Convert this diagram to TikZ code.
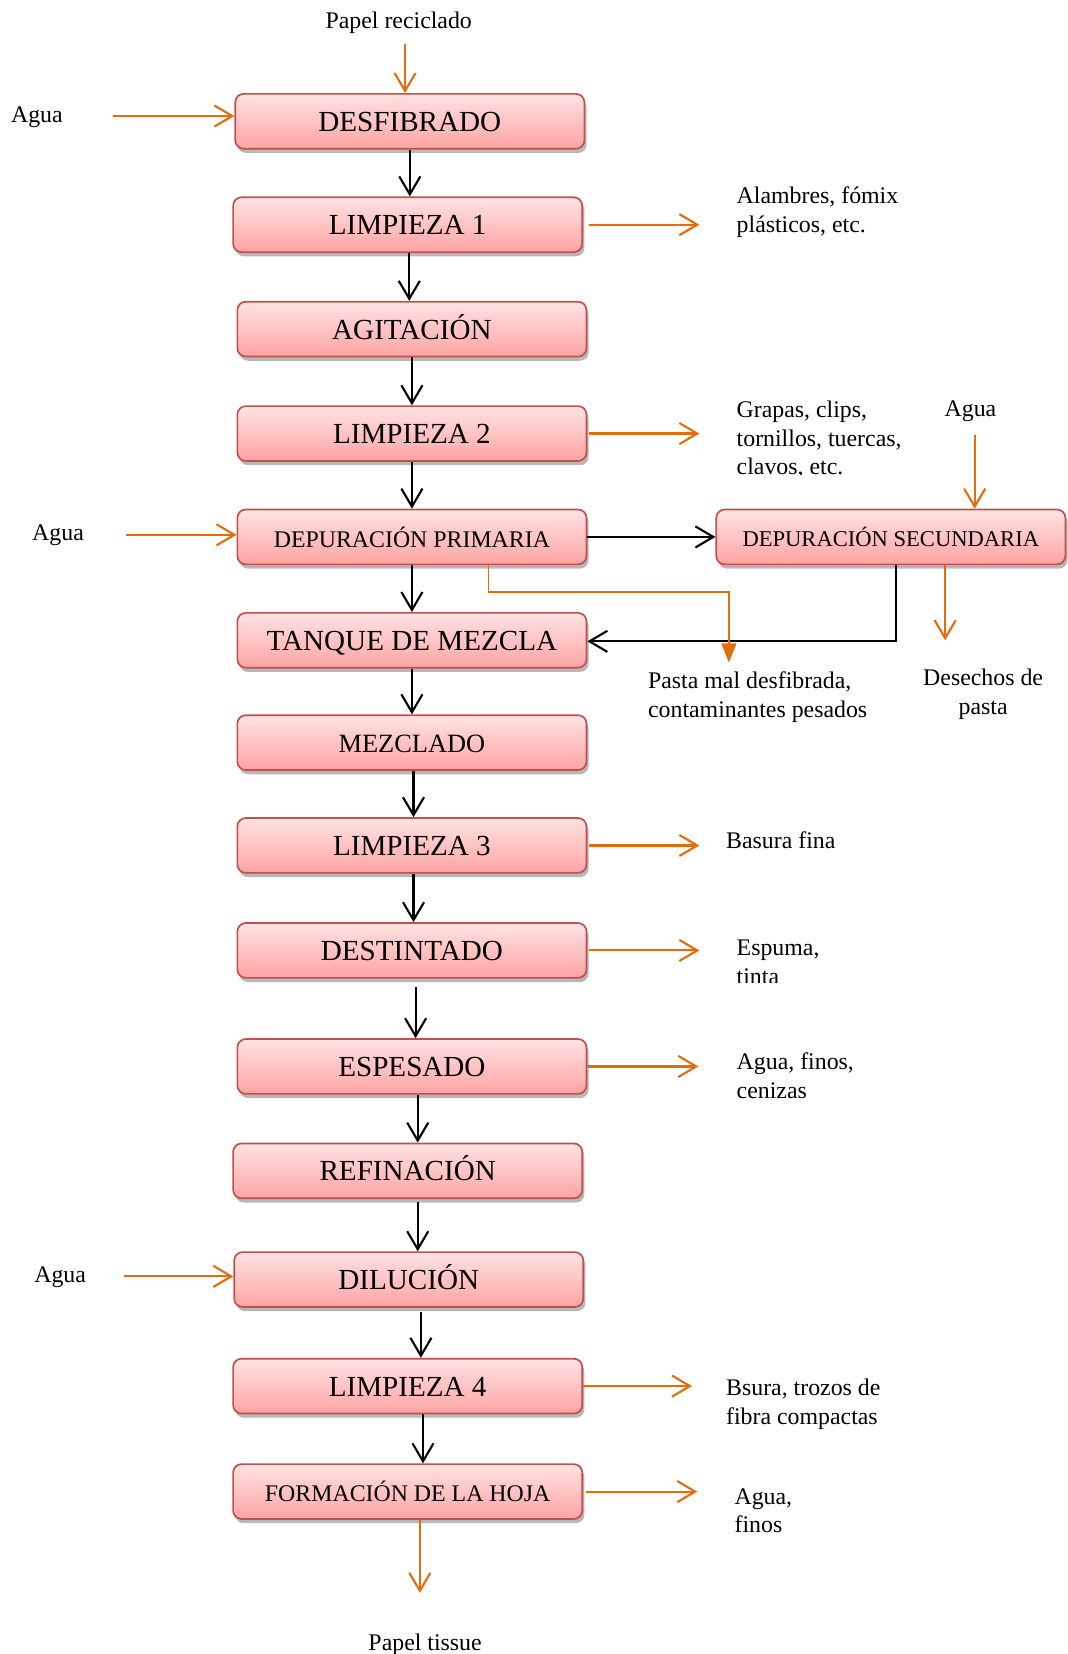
\documentclass[tikz,border=0pt]{standalone}
\usepackage{fontspec}
\setmainfont{Liberation Serif}
\usetikzlibrary{arrows.meta,shadows}

\definecolor{boxedge}{HTML}{C0504D}
\definecolor{boxtop}{HTML}{FFE3E3}
\definecolor{boxbot}{HTML}{FFA3A3}
\definecolor{flow}{HTML}{E46C0A}

\tikzset{
  x=0.5pt, y=0.5pt,
  proc/.style={draw=boxedge, line width=0.8pt, rounded corners=4pt,
    top color=boxtop, bottom color=boxbot,
    minimum width=165.5pt, minimum height=26pt, inner sep=0pt,
    drop shadow={shadow xshift=1pt, shadow yshift=-2pt, opacity=0.28, fill=black}},
  big/.style={font=\fontsize{13.8}{16}\selectfont, text height=0.95em, text depth=0pt},
  med/.style={font=\fontsize{12.5}{15}\selectfont, text height=0.9em, text depth=0pt},
  sml/.style={font=\fontsize{11.3}{13.5}\selectfont},
  tiny/.style={font=\fontsize{10.7}{13}\selectfont},
  note/.style={font=\fontsize{11.3}{13.5}\selectfont, align=left, inner sep=0pt, anchor=base west},
  notec/.style={font=\fontsize{11.3}{13.5}\selectfont, align=center, inner sep=0pt},
  blk/.style={line width=1pt, -{Straight Barb[length=8.5pt,width=10pt,line width=1pt]}},
  org/.style={draw=flow, line width=1pt, -{Straight Barb[length=8.5pt,width=10pt,line width=1pt]}},
  orgfill/.style={draw=flow, line width=0.75pt, -{Triangle[length=9pt,width=7pt,fill=flow]}},
}

\begin{document}
\begin{tikzpicture}
\useasboundingbox (0,0) rectangle (1012,-1568);

% process boxes of the main line
\node[proc,big] (desf)  at (388.5,-115)  {DESFIBRADO};
\node[proc,big] (limp1) at (386.5,-213)  {LIMPIEZA 1};
\node[proc,big] (agit)  at (390.5,-312)  {AGITACIÓN};
\node[proc,big] (limp2) at (390.5,-411)  {LIMPIEZA 2};
\node[proc,sml] (dep1)  at (390.5,-509)  {DEPURACIÓN PRIMARIA};
\node[proc,big] (tanq)  at (390.5,-607)  {TANQUE DE MEZCLA};
\node[proc,med] (mezc)  at (390.5,-704)  {MEZCLADO};
\node[proc,big] (limp3) at (390.5,-801.5){LIMPIEZA 3};
\node[proc,big] (dest)  at (390.5,-901)  {DESTINTADO};
\node[proc,big] (espe)  at (390.5,-1011) {ESPESADO};
\node[proc,big] (refi)  at (386.5,-1110) {REFINACIÓN};
\node[proc,big] (dilu)  at (387.5,-1213) {DILUCIÓN};
\node[proc,big] (limp4) at (386.5,-1314) {LIMPIEZA 4};
\node[proc,sml] (form)  at (386.5,-1414) {FORMACIÓN DE LA HOJA};
\node[proc,tiny] (dep2) at (844.5,-509)  {DEPURACIÓN SECUNDARIA};

% main downward flow
\draw[blk] (desf.south) -- (desf.south |- limp1.north);
\draw[blk] ([xshift=0.75pt]limp1.south) -- ([xshift=0.75pt]limp1.south |- agit.north);
\draw[blk] (agit.south) -- (agit.south |- limp2.north);
\draw[blk] (limp2.south) -- (limp2.south |- dep1.north);
\draw[blk] (dep1.south) -- (dep1.south |- tanq.north);
\draw[blk] (tanq.south) -- (tanq.south |- mezc.north);
\draw[blk] ([xshift=0.75pt]mezc.south) -- ([xshift=0.75pt]mezc.south |- limp3.north);
\draw[blk] ([xshift=0.75pt]limp3.south) -- ([xshift=0.75pt]limp3.south |- dest.north);
\draw[blk, shorten <=4pt] ([xshift=1.75pt]dest.south) -- ([xshift=1.75pt]dest.south |- espe.north);
\draw[blk] ([xshift=2.75pt]espe.south) -- ([xshift=2.75pt]espe.south |- refi.north);
\draw[blk, shorten <=1.5pt] ([xshift=4.75pt]refi.south) -- ([xshift=4.75pt]refi.south |- dilu.north);
\draw[blk, shorten <=2pt] ([xshift=5.75pt]dilu.south) -- ([xshift=5.75pt]dilu.south |- limp4.north);
\draw[blk] ([xshift=7.25pt]limp4.south) -- ([xshift=7.25pt]limp4.south |- form.north);

% secondary cleaning loop
\draw[blk] (dep1.east) -- (dep2.west);
\coordinate (ret) at (849,-608);
\draw[blk] (dep2.south -| ret) -- (ret) -- (ret -| tanq.east);

% inputs
\node[notec] (prin) at (378,-22) {Papel reciclado};
\coordinate (pin) at (384,-42);
\draw[org] (pin) -- (pin |- desf.north);

\node[notec] (ag1) at (35,-111) {Agua};
\coordinate (a1) at (107,-110);
\draw[org] (a1) -- (a1 -| desf.west);

\node[notec] (ag2) at (55,-507) {Agua};
\coordinate (a2) at (119,-507);
\draw[org] (a2) -- (a2 -| dep1.west);

\node[notec] (ag3) at (57,-1211) {Agua};
\coordinate (a3) at (118,-1210);
\draw[org] (a3) -- (a3 -| dilu.west);

\node[notec] (ag4) at (920,-390) {Agua};
\coordinate (a4) at (924,-412);
\draw[org] (a4) -- (a4 |- dep2.north);

% outputs (note nodes sit on the baseline of their last line)
\coordinate (o1) at (663,-215);
\draw[org, shorten <=3pt] (limp1.east) -- (limp1.east -| o1);
\node[note] (t1) at (698,-220) {Alambres, fómix\\plásticos, etc.};

\coordinate (o2) at (663,-411);
\draw[org, shorten <=1pt] (limp2.east) -- (limp2.east -| o2);
\begin{scope}
  \clip (680,-370) rectangle (900,-450);
  \node[note] (t2) at (698,-450) {Grapas, clips,\\tornillos, tuercas,\\clavos, etc.};
\end{scope}

\coordinate (o3) at (896,-607);
\draw[org] (dep2.south -| o3) -- (o3);
\node[notec, anchor=base] (t3) at (932,-677) {Desechos de\\pasta};

\coordinate (k1) at (463,-561);
\coordinate (k2) at (691,-628);
\draw[orgfill] (dep1.south -| k1) -- (k1) -- (k1 -| k2) -- (k2);
\node[note] (t4) at (614,-680) {Pasta mal desfibrada,\\contaminantes pesados};

\coordinate (o5) at (663,-801);
\draw[org, shorten <=1pt] (limp3.east) -- (limp3.east -| o5);
\node[note] (t5) at (688,-804) {Basura fina};

\coordinate (o6) at (663,-902);
\draw[org, shorten <=1pt] (dest.east) -- (dest.east -| o6);
\begin{scope}
  \clip (680,-870) rectangle (820,-931);
  \node[note] (t6) at (698,-933) {Espuma,\\tinta};
\end{scope}

\coordinate (o7) at (662,-1010);
\draw[org] (espe.east) -- (espe.east -| o7);
\node[note] (t7) at (698,-1041) {Agua, finos,\\cenizas};

\coordinate (o8) at (656,-1312);
\draw[org] (limp4.east) -- (limp4.east -| o8);
\node[note] (t8) at (688,-1350) {Bsura, trozos de\\fibra compactas};

\coordinate (o9) at (661,-1414);
\draw[org, shorten <=1.5pt] (form.east) -- (form.east -| o9);
\node[note] (t9) at (696,-1453) {Agua,\\finos};

\coordinate (pout) at (398,-1510);
\draw[org] (form.south -| pout) -- (pout);
\node[notec] (pt) at (403,-1559) {Papel tissue};
\end{tikzpicture}
\end{document}
